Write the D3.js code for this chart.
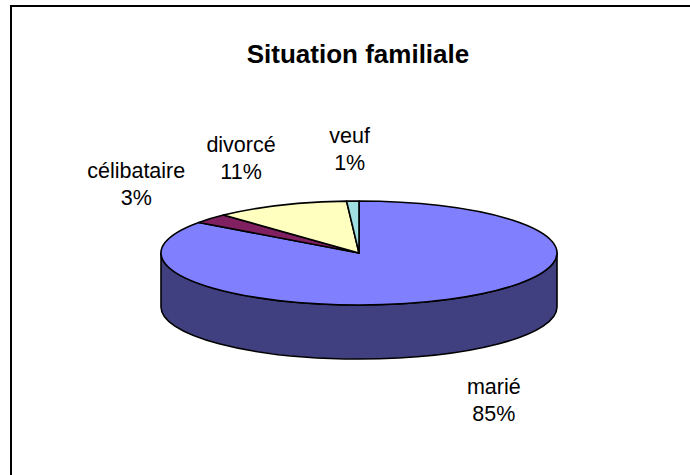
<!DOCTYPE html>
<html>
<head>
<meta charset="utf-8">
<script src="https://cdn.jsdelivr.net/npm/d3@7"></script>
<style>
  html, body { margin: 0; padding: 0; background: #ffffff; }
  svg { display: block; }
</style>
</head>
<body>
<svg id="chart" width="690" height="475"></svg>
<script>
const title = "Situation familiale";
const categories = ["marié", "célibataire", "divorcé", "veuf"];
const values = [85, 3, 11, 1];
const topColors = ["#8080FF", "#802060", "#FFFFC0", "#A0E0E0"];
const sideColors = ["#404080", "#401030", "#808060", "#507070"];

const W = 690, H = 475;
const cx = 359, cy = 253, rx = 198, ry = 52, depth = 54;

const svg = d3.select("#chart");

// chart area border (extends past right and bottom edges)
svg.append("rect")
  .attr("x", 11).attr("y", 6)
  .attr("width", W + 20).attr("height", H + 20)
  .attr("fill", "#ffffff")
  .attr("stroke", "#000000")
  .attr("stroke-width", 2);

svg.append("text")
  .attr("x", 358).attr("y", 63)
  .attr("text-anchor", "middle")
  .attr("font-family", "'Liberation Sans', Arial, sans-serif")
  .attr("font-weight", "bold")
  .attr("font-size", 26)
  .attr("fill", "#000")
  .text(title);

const data = categories.map((c, i) => ({ name: c, v: values[i], i }));
const total = d3.sum(values);
const arcs = d3.pie().sort(null).value(d => d.v).startAngle(0).endAngle(2 * Math.PI)(data);

const P = (a, dz = 0) => [cx + rx * Math.sin(a), cy - ry * Math.cos(a) + dz];
const pt = p => p[0].toFixed(2) + " " + p[1].toFixed(2);

// side walls (front half only: angles between PI/2 and 3PI/2)
const sideG = svg.append("g");
arcs.forEach(d => {
  const s = Math.max(d.startAngle, Math.PI / 2);
  const e = Math.min(d.endAngle, 3 * Math.PI / 2);
  if (e <= s) return;
  const m = (s + e) / 2;
  const path = "M " + pt(P(s)) +
    " A " + rx + " " + ry + " 0 0 1 " + pt(P(m)) +
    " A " + rx + " " + ry + " 0 0 1 " + pt(P(e)) +
    " L " + pt(P(e, depth)) +
    " A " + rx + " " + ry + " 0 0 0 " + pt(P(m, depth)) +
    " A " + rx + " " + ry + " 0 0 0 " + pt(P(s, depth)) + " Z";
  sideG.append("path")
    .attr("d", path)
    .attr("fill", sideColors[d.data.i])
    .attr("stroke", "#000")
    .attr("stroke-width", 1.6)
    .attr("stroke-linejoin", "round");
});

// top faces
const topG = svg.append("g");
arcs.forEach(d => {
  const large = (d.endAngle - d.startAngle) > Math.PI ? 1 : 0;
  const path = "M " + cx + " " + cy +
    " L " + pt(P(d.startAngle)) +
    " A " + rx + " " + ry + " 0 " + large + " 1 " + pt(P(d.endAngle)) + " Z";
  topG.append("path")
    .attr("d", path)
    .attr("fill", topColors[d.data.i])
    .attr("stroke", "#000")
    .attr("stroke-width", 1.6)
    .attr("stroke-linejoin", "round");
});

// labels
const lblG = svg.append("g")
  .attr("font-family", "'Liberation Sans', Arial, sans-serif")
  .attr("font-size", 21.5)
  .attr("fill", "#000")
  .attr("text-anchor", "middle");
const lineH = 27, asc = 15.5;
arcs.forEach(d => {
  const mid = (d.startAngle + d.endAngle) / 2;
  const x = cx + rx * 1.5 * Math.sin(mid);
  const yc = cy - ry * 2.0 * Math.cos(mid) + (Math.cos(mid) < 0 ? depth : 0);
  const y1 = yc - (lineH + asc) / 2 + asc;
  const t = lblG.append("text").attr("x", x).attr("y", y1);
  t.append("tspan").attr("x", x).attr("y", y1).text(d.data.name);
  t.append("tspan").attr("x", x).attr("y", y1 + lineH)
    .text(Math.round(d.data.v / total * 100) + "%");
});
</script>
</body>
</html>
